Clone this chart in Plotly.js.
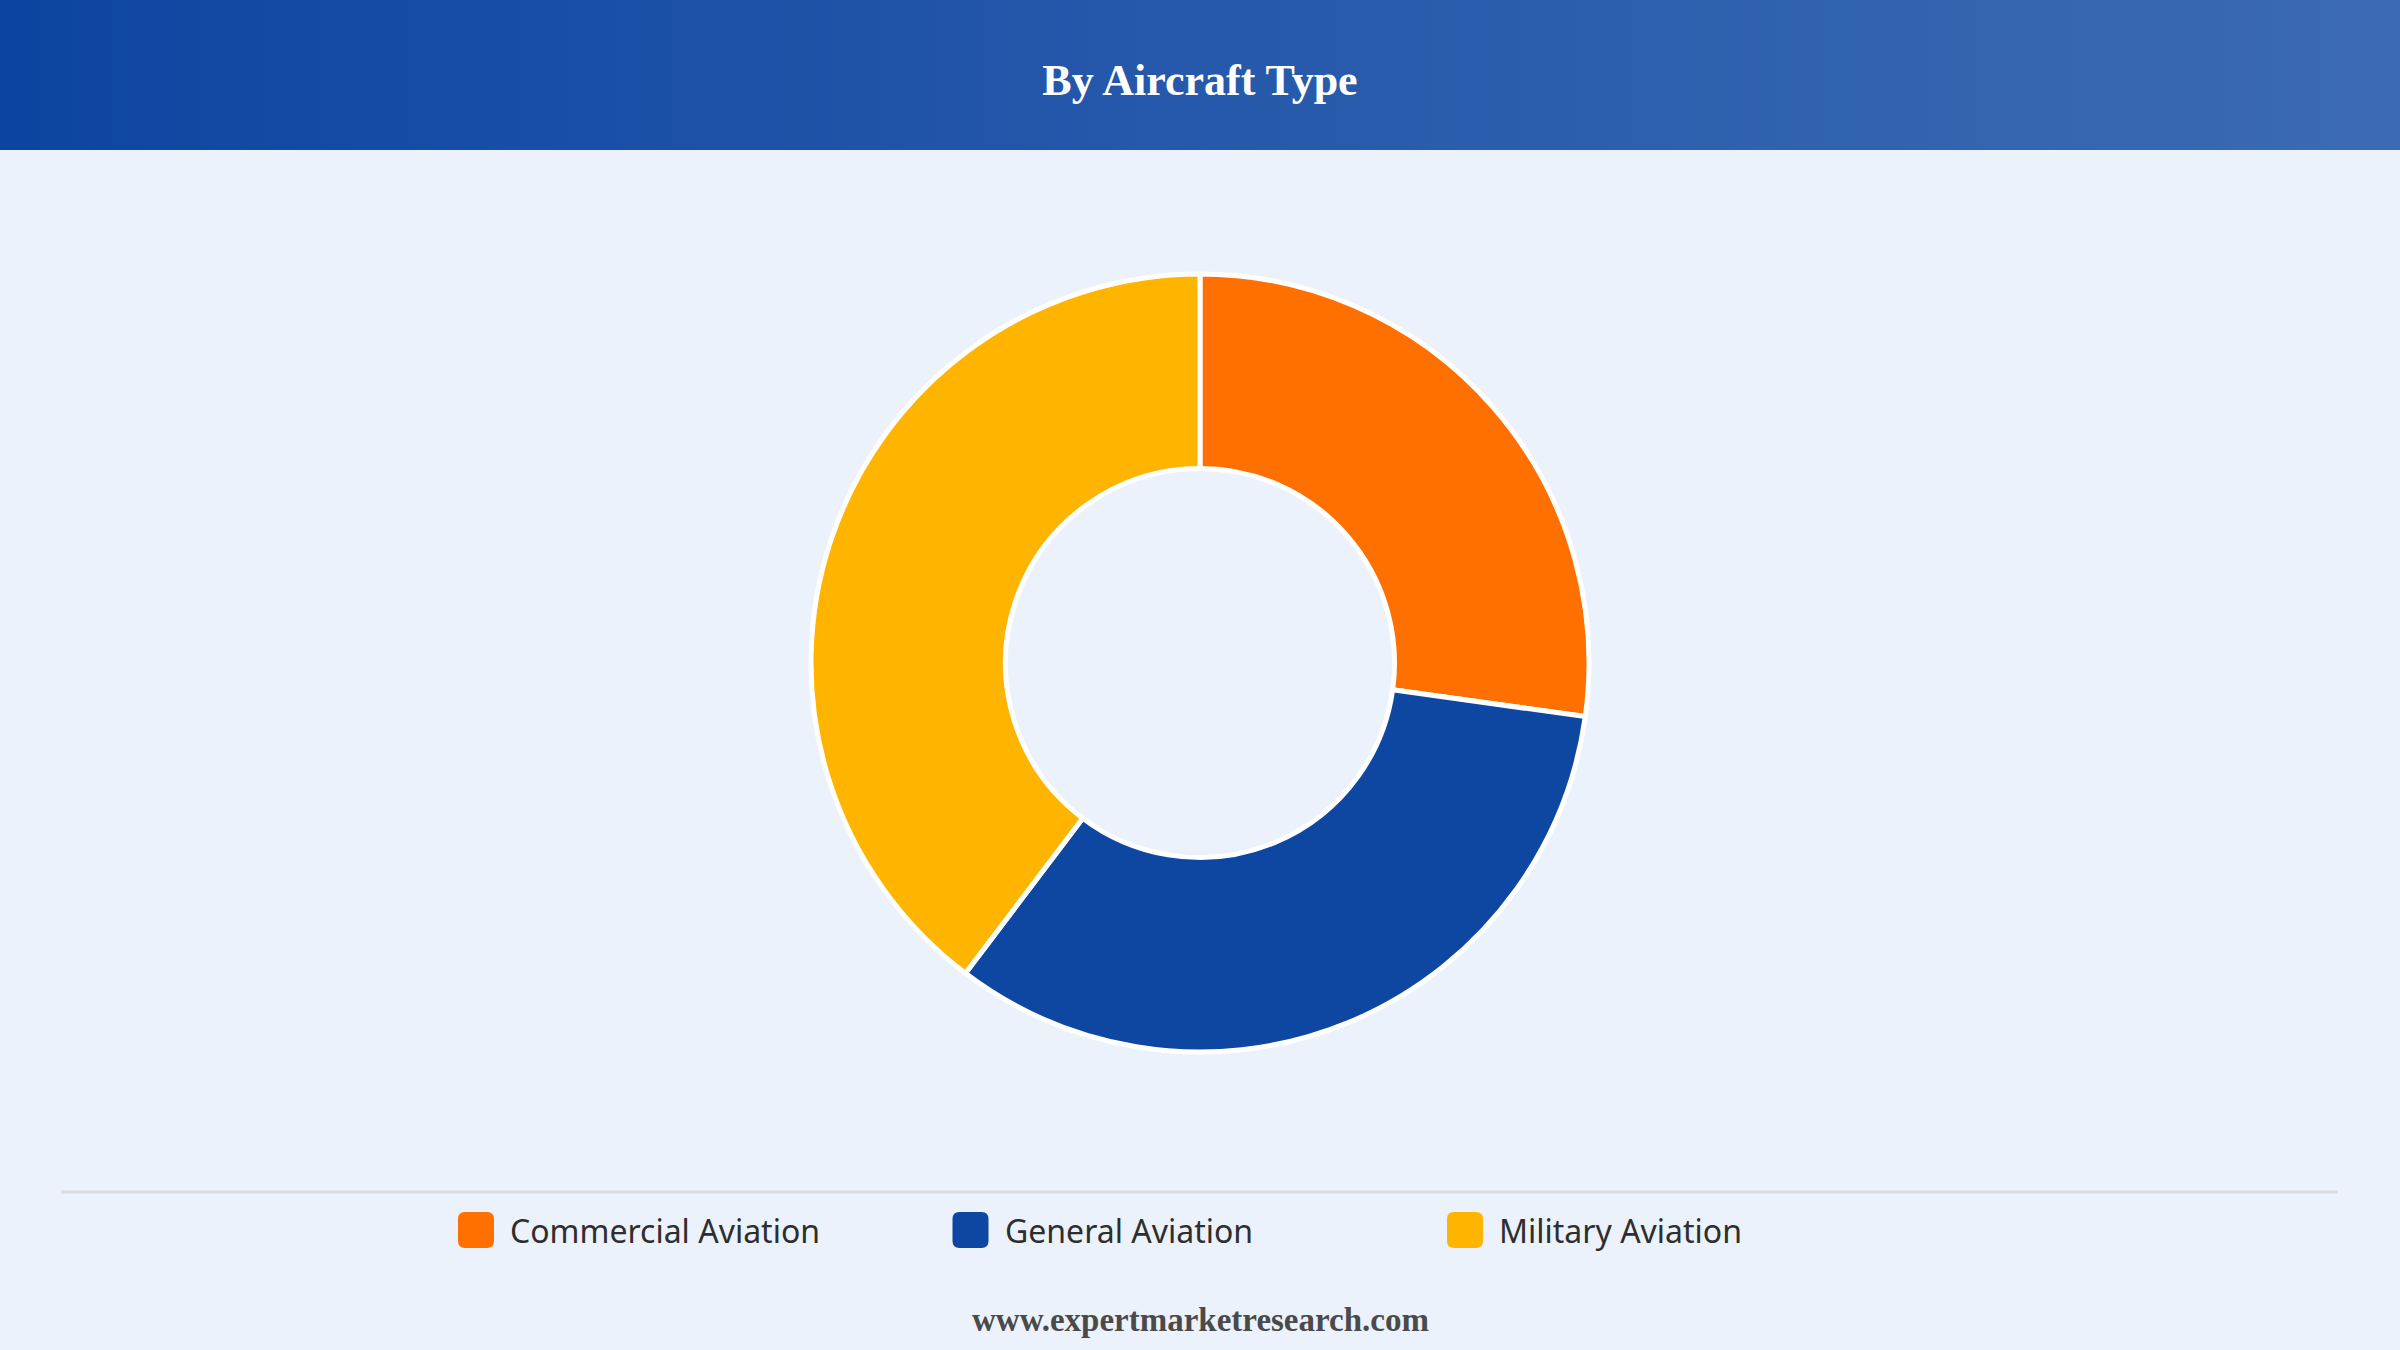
<!DOCTYPE html>
<html>
<head>
<meta charset="utf-8">
<script src="https://cdn.plot.ly/plotly-3.0.1.min.js"></script>
<style>
  html, body { margin: 0; padding: 0; background: #EBF2FB; }
  #wrap { position: relative; width: 2400px; height: 1350px; overflow: hidden; }
  #band {
    position: absolute; left: 0; top: 0; width: 2400px; height: 150px;
    background: linear-gradient(to right, #0C45A1 0%, #2457AA 45%, #3C6AB4 100%);
  }
  #chart { position: absolute; left: 0; top: 0; width: 2400px; height: 1350px; }
</style>
</head>
<body>
<div id="wrap">
  <div id="band"></div>
  <div id="chart"></div>
</div>
<script>
// Market share by aircraft type (%)
const categories = ["Commercial Aviation", "General Aviation", "Military Aviation"];
const shares = [27.2, 33.1, 39.7];
const colors = ["#FF7000", "#0E47A1", "#FFB500"];

const W = 2400, H = 1350;
const px = x => x / W;          // pixel -> paper x
const py = y => 1 - y / H;      // pixel -> paper y

// Donut placement
const cx = 1200, cy = 663, R = 389;

const trace = {
  type: "pie",
  labels: categories,
  values: shares,
  hole: 0.5,
  sort: false,
  direction: "clockwise",
  rotation: 0,
  textinfo: "none",
  hoverinfo: "label+percent",
  marker: { colors: colors, line: { color: "#FFFFFF", width: 5 } },
  domain: { x: [0, 1], y: [py(cy + R), py(cy - R)] },
  showlegend: false
};

// Custom legend row: rounded swatches with labels
const shapes = [];
const annotations = [];

// thin separator above the legend
shapes.push({
  type: "line", xref: "paper", yref: "paper",
  x0: px(61), x1: px(2338), y0: py(1192), y1: py(1192),
  line: { color: "#DCDCDC", width: 3 }
});

function roundedRect(x, y, w, h, r) {
  const X = v => px(v), Y = v => py(v);
  return [
    `M${X(x + r)},${Y(y)}`,
    `L${X(x + w - r)},${Y(y)}`,
    `Q${X(x + w)},${Y(y)} ${X(x + w)},${Y(y + r)}`,
    `L${X(x + w)},${Y(y + h - r)}`,
    `Q${X(x + w)},${Y(y + h)} ${X(x + w - r)},${Y(y + h)}`,
    `L${X(x + r)},${Y(y + h)}`,
    `Q${X(x)},${Y(y + h)} ${X(x)},${Y(y + h - r)}`,
    `L${X(x)},${Y(y + r)}`,
    `Q${X(x)},${Y(y)} ${X(x + r)},${Y(y)}`,
    "Z"
  ].join(" ");
}

const legendLeft = 458, legendStep = 494.5, legendMid = 1230, sw = 36;
categories.forEach((name, i) => {
  const x = legendLeft + i * legendStep;
  shapes.push({
    type: "path", xref: "paper", yref: "paper",
    path: roundedRect(x, legendMid - sw / 2, sw, sw, 7),
    fillcolor: colors[i], line: { width: 0 }
  });
  annotations.push({
    xref: "paper", yref: "paper",
    x: px(x + sw + 14), y: py(legendMid),
    xanchor: "left", yanchor: "middle",
    text: name, showarrow: false,
    font: { family: "Noto Sans, Open Sans, sans-serif", size: 32, color: "#2E2E2E" }
  });
});

// source line at the bottom
annotations.push({
  xref: "paper", yref: "paper",
  x: 0.5, y: py(1320), xanchor: "center", yanchor: "middle",
  text: "www.expertmarketresearch.com", showarrow: false,
  font: { family: "Liberation Serif, Times New Roman, serif", size: 33, color: "#4A4A4A", weight: "bold" }
});

const layout = {
  width: W, height: H,
  margin: { l: 0, r: 0, t: 0, b: 0 },
  paper_bgcolor: "rgba(0,0,0,0)",
  plot_bgcolor: "rgba(0,0,0,0)",
  title: {
    text: "By Aircraft Type",
    x: 0.5, xanchor: "center",
    y: py(80), yanchor: "middle", yref: "paper",
    font: { family: "Liberation Serif, Times New Roman, serif", size: 44, color: "#FFFFFF", weight: "bold" }
  },
  showlegend: false,
  shapes: shapes,
  annotations: annotations
};

Plotly.newPlot("chart", [trace], layout, { displayModeBar: false, staticPlot: true });
</script>
</body>
</html>
